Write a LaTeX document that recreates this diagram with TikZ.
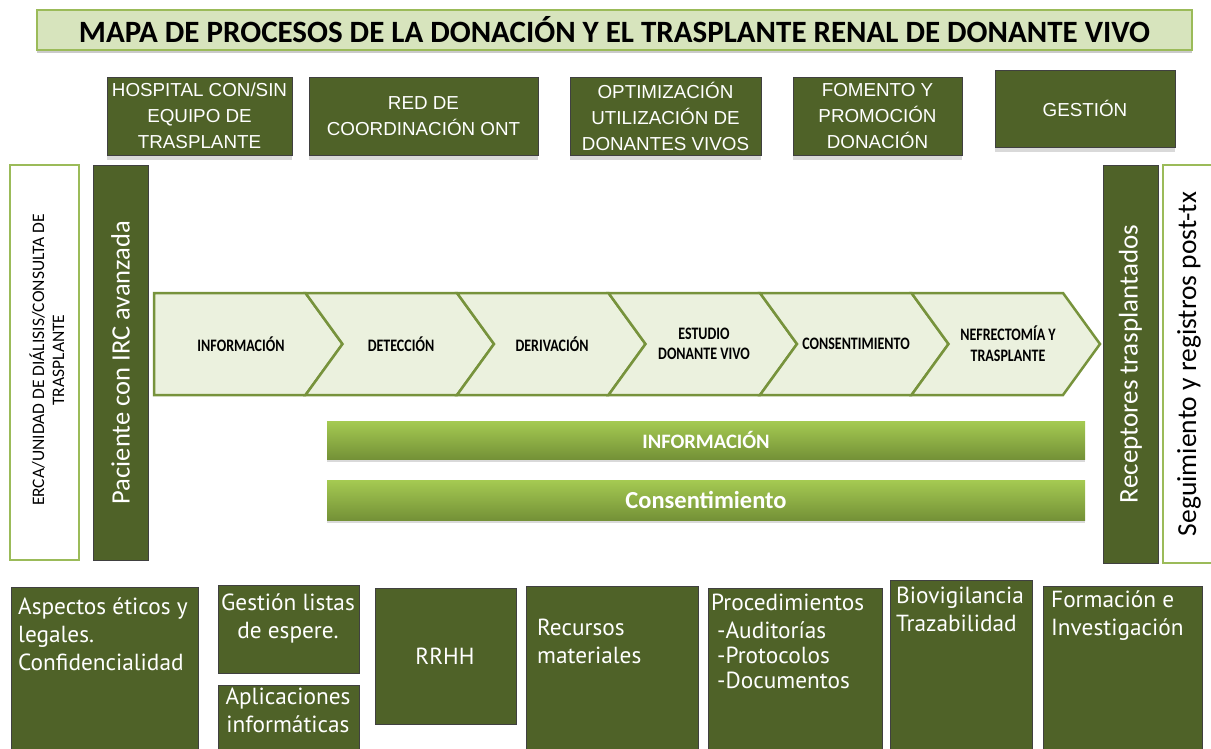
\documentclass[tikz,border=0pt]{standalone}
\usepackage{fontspec}
\setmainfont{Carlito}
\newfontfamily\arialf{Liberation Sans}
\newfontfamily\myriadf{PT Sans}
\usetikzlibrary{shadows}
\definecolor{dkgreen}{RGB}{79,98,40}
\definecolor{chevfill}{RGB}{235,241,222}
\definecolor{chevline}{RGB}{119,147,60}
\definecolor{ltline}{RGB}{155,187,89}
\definecolor{titlefill}{RGB}{215,228,189}
\definecolor{bartop}{RGB}{165,202,82}
\definecolor{barbot}{RGB}{116,145,55}
\begin{document}
\begin{tikzpicture}[x=1pt,y=-1pt,
  box/.style={draw=black!75, line width=0.8pt, fill=dkgreen, inner sep=0pt, outer sep=0pt},
  topbox/.style={box, text=white, align=center, font=\arialf\fontsize{18.8}{26}\selectfont,
    drop shadow={shadow xshift=0pt, shadow yshift=-5pt, opacity=0.25, fill=black!60}},
  whitebox/.style={draw=ltline, line width=1.2pt, fill=white, inner sep=0pt, outer sep=0pt},
  vtext/.style={rotate=90, align=center, inner sep=0pt},
  bottext/.style={text=white, font=\myriadf\fontsize{23.3}{28}\selectfont, inner sep=0pt},
  chevtext/.style={font=\bfseries\fontsize{14}{16.5}\selectfont, align=center, inner sep=0pt, yscale=1.25},
  bar/.style={draw=none, top color=bartop, bottom color=barbot, inner sep=0pt, text=white,
    drop shadow={shadow xshift=0pt, shadow yshift=-3pt, opacity=0.3, fill=black!50}},
]
\useasboundingbox (0,0) rectangle (1211,748);
\clip (0,0) rectangle (1211,748);

% title
\node[draw=ltline, line width=1.5pt, fill=titlefill, minimum width=1155pt, minimum height=40pt,
  inner sep=0pt, drop shadow={shadow xshift=0pt, shadow yshift=-3pt, opacity=0.35, fill=black!60},
  font=\bfseries\fontsize{31}{34}\selectfont] (title) at (614.5,30)
  {MAPA DE PROCESOS DE LA DONACIÓN Y EL TRASPLANTE RENAL DE DONANTE VIVO};

% top boxes
\node[topbox, minimum width=185pt, minimum height=78pt] (hosp) at (199.5,116) {HOSPITAL CON/SIN\\EQUIPO DE\\TRASPLANTE};
\node[topbox, minimum width=229pt, minimum height=78pt] (red) at (423.5,116) {RED DE\\COORDINACIÓN ONT};
\node[topbox, minimum width=191pt, minimum height=78pt] (opt) at (665.5,116) {OPTIMIZACIÓN\\UTILIZACIÓN DE\\DONANTES VIVOS};
\node[topbox, minimum width=169pt, minimum height=78pt] (fom) at (877.5,116) {FOMENTO Y\\PROMOCIÓN\\DONACIÓN};
\node[topbox, minimum width=180pt, minimum height=77pt] (gest) at (1085,108.5) {GESTIÓN};

% side boxes
\node[whitebox, minimum width=69pt, minimum height=395pt] (erca) at (44.5,362.5) {};
\node[vtext, font=\fontsize{17.5}{20}\selectfont] (ercat) at (47,360) {ERCA/UNIDAD DE DIÁLISIS/CONSULTA DE\\TRASPLANTE};
\node[box, minimum width=55pt, minimum height=395pt] (pac) at (120.5,362.5) {};
\node[vtext, text=white, font=\fontsize{26.5}{30}\selectfont] (pact) at (pac.center) {Paciente con IRC avanzada};
\node[box, minimum width=55pt, minimum height=398pt] (rec) at (1130.5,364) {};
\node[vtext, text=white, font=\fontsize{27}{30}\selectfont] (rect) at (rec.center) {Receptores trasplantados};
\node[whitebox, minimum width=60pt, minimum height=398pt] (seg) at (1193,364) {};
\node[vtext, font=\fontsize{27.5}{30}\selectfont] (segt) at (1189,364) {Seguimiento y registros post-tx};

% chevrons
\def\s{151.5}
\def\d{37}
\draw[fill=chevfill, draw=chevline, line width=2.5pt, line join=miter]
  (154,293) -- (305.5,293) -- (342.5,344) -- (305.5,395) -- (154,395) -- cycle;
\foreach \i in {1,...,5}{
  \pgfmathsetmacro{\L}{154+\i*\s}
  \pgfmathsetmacro{\R}{\L+\s}
  \draw[fill=chevfill, draw=chevline, line width=2.5pt, line join=miter]
    (\L,293) -- (\R,293) -- (\R+\d,344) -- (\R,395) -- (\L,395) -- (\L+\d,344) -- cycle;
}
\node[chevtext] (c1) at (241,344) {INFORMACIÓN};
\node[chevtext] (c2) at (401,344) {DETECCIÓN};
\node[chevtext] (c3) at (552,344) {DERIVACIÓN};
\node[chevtext] (c4) at (704,344) {ESTUDIO\\DONANTE VIVO};
\node[chevtext] (c5) at (856,344) {CONSENTIMIENTO};
\node[chevtext] (c6) at (1008,344) {NEFRECTOMÍA Y\\TRASPLANTE};

% green bars
\node[bar, minimum width=758pt, minimum height=38pt, font=\bfseries\fontsize{20.5}{22}\selectfont] (binfo) at (706,440) {INFORMACIÓN};
\node[bar, minimum width=758pt, minimum height=40pt, font=\bfseries\fontsize{24.5}{26}\selectfont] (bcons) at (706,500) {Consentimiento};

% bottom boxes
\node[box, minimum width=187pt, minimum height=170pt, anchor=north west] (asp) at (11,587) {};
\node[box, minimum width=141pt, minimum height=88pt, anchor=north west] (gl) at (218,585) {};
\node[box, minimum width=141pt, minimum height=70pt, anchor=north west] (apl) at (218,685) {};
\node[box, minimum width=141pt, minimum height=136pt, anchor=north west] (rrhh) at (375,588) {};
\node[box, minimum width=172pt, minimum height=170pt, anchor=north west] (recm) at (526,586) {};
\node[box, minimum width=174pt, minimum height=170pt, anchor=north west] (proc) at (708,588) {};
\node[box, minimum width=142pt, minimum height=178pt, anchor=north west] (bio) at (890,580) {};
\node[box, minimum width=159pt, minimum height=170pt, anchor=north west] (form) at (1043,586) {};

\node[bottext, anchor=north west, align=left] (aspt) at (18,598) {Aspectos éticos y\\legales.\\Confidencialidad};
\node[bottext, anchor=north, align=center] (glt) at (288,594) {Gestión listas\\de espere.};
\node[bottext, anchor=north, align=center] (aplt) at (288,688) {Aplicaciones\\informáticas};
\node[bottext] (rrhht) at (445,656) {RRHH};
\node[bottext, anchor=north west, align=left] (recmt) at (537,619) {Recursos\\materiales};
\node[bottext, anchor=north west, align=left, font=\myriadf\fontsize{23.3}{25}\selectfont] (proct) at (711,594) {Procedimientos\\[3pt]\hspace*{6pt}-Auditorías\\\hspace*{6pt}-Protocolos\\\hspace*{6pt}-Documentos};
\node[bottext, anchor=north west, align=left] (biot) at (896,587) {Biovigilancia\\Trazabilidad};
\node[bottext, anchor=north west, align=left] (formt) at (1051,591) {Formación e\\Investigación};
\end{tikzpicture}
\end{document}
